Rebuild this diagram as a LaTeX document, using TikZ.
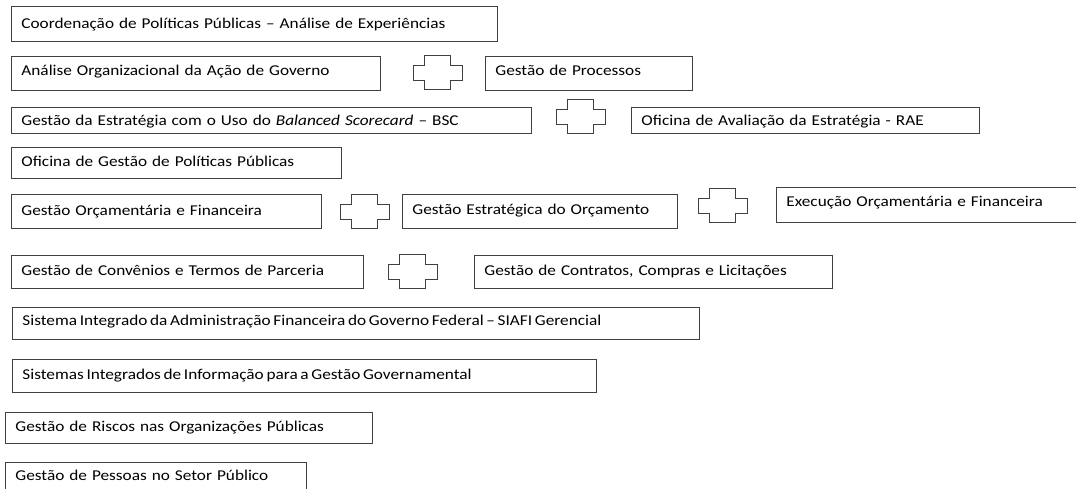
\documentclass[tikz,border=0pt]{standalone}
\usepackage{fontspec}
\setmainfont{Carlito}[FakeStretch=1.15]
\tikzset{
  bx/.style={draw=black!75, line width=0.9pt, anchor=north west, inner xsep=10pt, inner ysep=0pt,
    align=left, font=\fontsize{15}{18}\selectfont, text=black},
  crs/.style={draw=black!75, line width=0.9pt}
}
% name, x, y, text width, height, baseline offset, text
\newcommand\bxn[7]{\pgfmathsetmacro\bxdp{#5-#6}%
  \node[bx, text width=#4pt, text height=#6pt, text depth=\bxdp pt] (#1) at (#2,#3) {\mbox{#7}};}
\newcommand\crsn[2]{\draw[crs] (#1,#2) ++(11,0) -- ++(26,0) -- ++(0,10) -- ++(12,0) -- ++(0,15) -- ++(-12,0) -- ++(0,9) -- ++(-26,0) -- ++(0,-9) -- ++(-11,0) -- ++(0,-15) -- ++(11,0) -- cycle;}
\newcommand\tight{\spaceskip=2.7pt plus 1pt minus 1pt\relax}
\begin{document}
\begin{tikzpicture}[x=1pt,y=-1pt]
\clip (0,0) rectangle (1076,488);
\fill[white] (0,0) rectangle (1076,488);
\bxn{b1}{11}{6}{466}{35}{22}{Coordenação de Políticas Públicas – Análise de Experiências}
\bxn{b2}{11}{56}{349}{34}{19}{Análise Organizacional da Ação de Governo}
\crsn{413}{55}
\bxn{b3}{485}{56}{187}{34}{19}{Gestão de Processos}
\bxn{b4}{11}{107}{500}{26}{18}{Gestão da Estratégia com o Uso do \textit{Balanced Scorecard} – BSC}
\crsn{556}{99}
\bxn{b5}{631}{107}{328}{26}{18}{Oficina de Avaliação da Estratégia - RAE}
\bxn{b6}{11}{147}{310}{31}{19}{Oficina de Gestão de Políticas Públicas}
\bxn{b7}{11}{194}{290}{34}{21}{Gestão Orçamentária e Financeira}
\crsn{340}{194}
\bxn{b8}{402}{194}{255}{34}{20}{Gestão Estratégica do Orçamento}
\crsn{698}{188}
\bxn{b9}{776}{187}{300}{35}{19}{Execução Orçamentária e Financeira}
\bxn{b10}{11}{255}{332}{33}{20}{Gestão de Convênios e Termos de Parceria}
\crsn{388}{254}
\bxn{b11}{474}{255}{338}{33}{20}{Gestão de Contratos, Compras e Licitações}
\bxn{b12}{12}{307}{667}{32}{18}{\tight Sistema Integrado da Administração Financeira do Governo Federal – SIAFI Gerencial}
\bxn{b13}{12}{359}{564}{33}{20}{\tight Sistemas Integrados de Informação para a Gestão Governamental}
\bxn{b14}{5}{412}{347}{31}{19}{Gestão de Riscos nas Organizações Públicas}
\bxn{b15}{5}{462}{281}{40}{18}{Gestão de Pessoas no Setor Público}
\end{tikzpicture}
\end{document}
